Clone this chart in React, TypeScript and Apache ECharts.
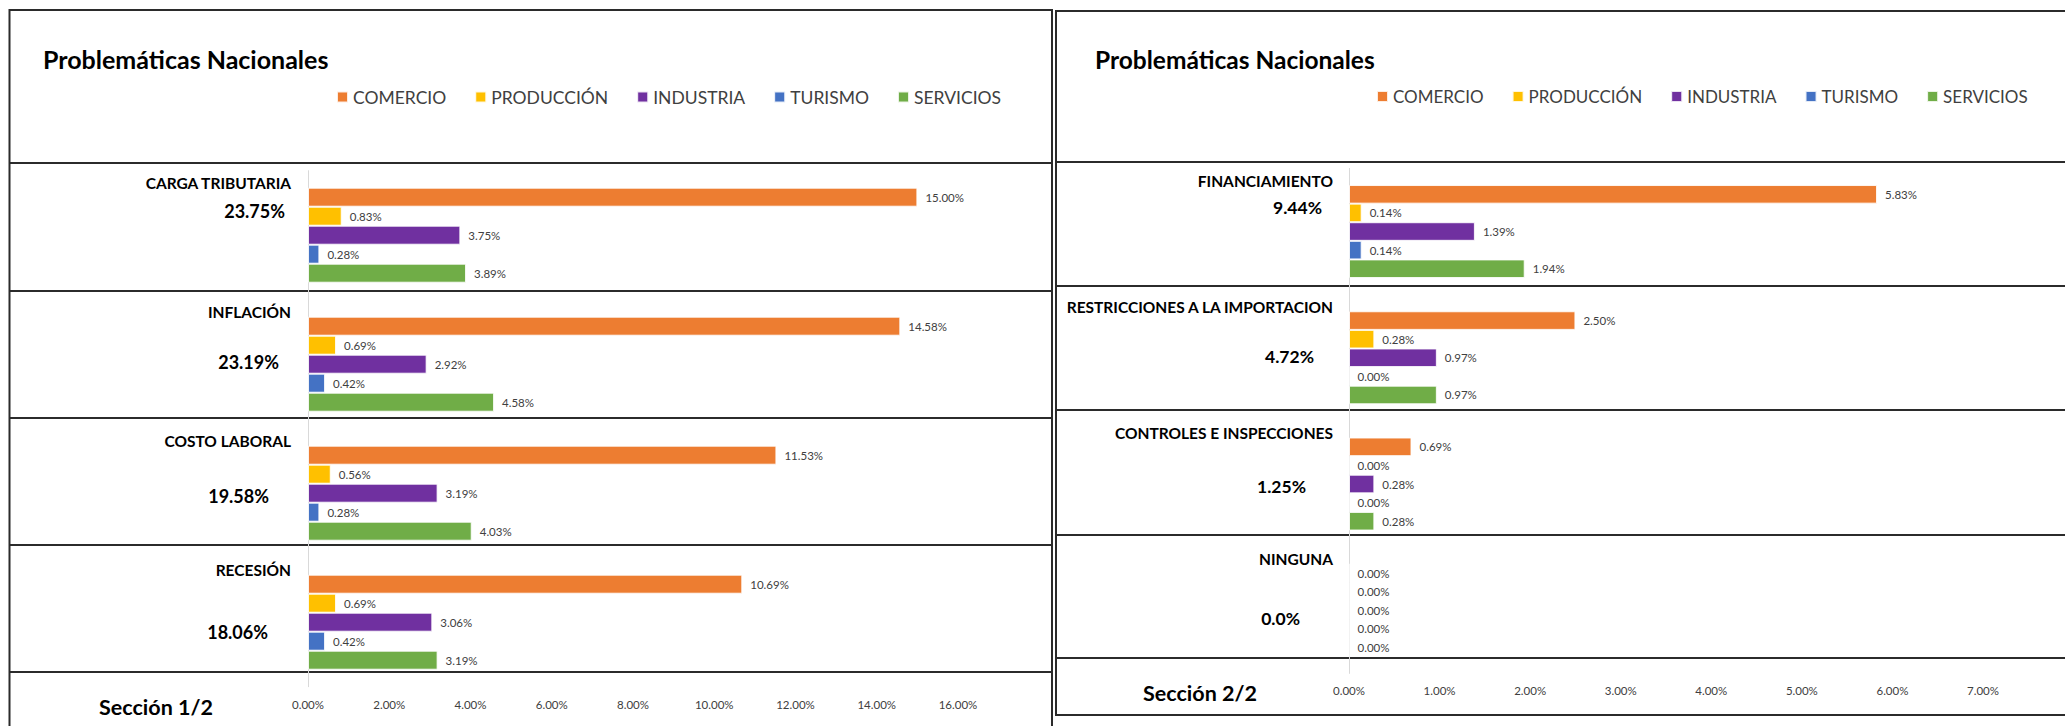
import React, { useEffect, useRef } from 'react';
import * as echarts from 'echarts';

// ---------- data ----------
const seriesNames = ['COMERCIO', 'PRODUCCIÓN', 'INDUSTRIA', 'TURISMO', 'SERVICIOS'];
const seriesColors = ['#ED7D31', '#FFC000', '#7030A0', '#4472C4', '#70AD47'];

const categories1 = ['CARGA TRIBUTARIA', 'INFLACIÓN', 'COSTO LABORAL', 'RECESIÓN'];
const totals1 = ['23.75%', '23.19%', '19.58%', '18.06%'];
const comercio1 = [15.0, 14.58, 11.53, 10.69];
const produccion1 = [0.83, 0.69, 0.56, 0.69];
const industria1 = [3.75, 2.92, 3.19, 3.06];
const turismo1 = [0.28, 0.42, 0.28, 0.42];
const servicios1 = [3.89, 4.58, 4.03, 3.19];

const categories2 = ['FINANCIAMIENTO', 'RESTRICCIONES A LA IMPORTACION', 'CONTROLES E INSPECCIONES', 'NINGUNA'];
const totals2 = ['9.44%', '4.72%', '1.25%', '0.0%'];
const comercio2 = [5.83, 2.5, 0.69, 0.0];
const produccion2 = [0.14, 0.28, 0.0, 0.0];
const industria2 = [1.39, 0.97, 0.28, 0.0];
const turismo2 = [0.14, 0.0, 0.0, 0.0];
const servicios2 = [1.94, 0.97, 0.28, 0.0];

const axisMax1 = 16;
const axisStep1 = 2;
const axisMax2 = 7;
const axisStep2 = 1;

const chartTitle = 'Problemáticas Nacionales';
const sectionLabels = ['Sección 1/2', 'Sección 2/2'];

// ---------- layout (positions of annotation texts) ----------
const FONT = 'Lato, "Open Sans", sans-serif';
const totalPos1 = [
  [285, 210.5],
  [279, 362],
  [269, 496],
  [268, 632],
];
const totalPos2 = [
  [1322, 207],
  [1314, 356],
  [1306, 486],
  [1300, 618],
];
const leftRows = [163, 291, 418, 545, 672];
const rightRows = [162, 286, 410, 535, 658];

export default function App() {
  const ref = useRef<HTMLDivElement>(null);

  useEffect(() => {
    if (!ref.current) return;
    const chart = echarts.init(ref.current, null, { renderer: 'svg' });

    const data1 = [comercio1, produccion1, industria1, turismo1, servicios1];
    const data2 = [comercio2, produccion2, industria2, turismo2, servicios2];

    const labelCfg = {
      show: true,
      position: 'right',
      distance: 8,
      fontFamily: FONT,
      fontSize: 11.5,
      color: '#404040',
      formatter: (p: any) => Number(p.value).toFixed(2) + '%',
    };

    const mkSeries = (arr: number[][], idx: number, bw: number) =>
      arr.map((d, i) => ({
        type: 'bar',
        name: seriesNames[i],
        xAxisIndex: idx,
        yAxisIndex: idx,
        data: d,
        barWidth: bw,
        barGap: '0%',
        itemStyle: { color: seriesColors[i], borderColor: 'rgba(255,255,255,0.85)', borderWidth: 1 },
        label: labelCfg,
      }));

    const lineStyle = { stroke: '#2b2b2b', lineWidth: 2 };
    const graphics: any[] = [];
    // panel frames
    graphics.push({ type: 'rect', shape: { x: 9.5, y: 10, width: 1042.5, height: 800 }, style: { fill: 'none', ...lineStyle } });
    graphics.push({ type: 'rect', shape: { x: 1056, y: 11, width: 1100, height: 704 }, style: { fill: 'none', ...lineStyle } });
    leftRows.forEach((y) =>
      graphics.push({ type: 'line', shape: { x1: 9.5, y1: y, x2: 1052, y2: y }, style: lineStyle })
    );
    rightRows.forEach((y) =>
      graphics.push({ type: 'line', shape: { x1: 1056, y1: y, x2: 2100, y2: y }, style: lineStyle })
    );
    // titles
    graphics.push({ type: 'text', x: 43, y: 59, style: { text: chartTitle, fontFamily: FONT, fontWeight: 'bold', fontSize: 25, fill: '#000', textVerticalAlign: 'middle' } });
    graphics.push({ type: 'text', x: 1095, y: 59, style: { text: chartTitle, fontFamily: FONT, fontWeight: 'bold', fontSize: 24.5, fill: '#000', textVerticalAlign: 'middle' } });
    // totals
    totals1.forEach((t, i) =>
      graphics.push({ type: 'text', x: totalPos1[i][0], y: totalPos1[i][1], style: { text: t, fontFamily: FONT, fontWeight: 'bold', fontSize: 18, fill: '#000', textAlign: 'right', textVerticalAlign: 'middle' } })
    );
    totals2.forEach((t, i) =>
      graphics.push({ type: 'text', x: totalPos2[i][0], y: totalPos2[i][1], style: { text: t, fontFamily: FONT, fontWeight: 'bold', fontSize: 17.5, fill: '#000', textAlign: 'right', textVerticalAlign: 'middle' } })
    );
    // section labels
    graphics.push({ type: 'text', x: 156, y: 707, style: { text: sectionLabels[0], fontFamily: FONT, fontWeight: 'bold', fontSize: 21.5, fill: '#000', textAlign: 'center', textVerticalAlign: 'middle' } });
    graphics.push({ type: 'text', x: 1200, y: 693, style: { text: sectionLabels[1], fontFamily: FONT, fontWeight: 'bold', fontSize: 21.5, fill: '#000', textAlign: 'center', textVerticalAlign: 'middle' } });

    const legendBase = {
      icon: 'rect',
      itemWidth: 11,
      itemHeight: 11,
      padding: 0,
      data: seriesNames,
    };

    const xAxisBase = (gi: number, max: number, step: number, margin: number) => ({
      type: 'value',
      gridIndex: gi,
      min: 0,
      max,
      interval: step,
      axisLine: { show: false },
      axisTick: { show: false },
      splitLine: { show: false },
      axisLabel: {
        margin,
        fontFamily: FONT,
        fontSize: 11.5,
        color: '#404040',
        formatter: (v: number) => v.toFixed(2) + '%',
      },
    });

    const yAxisBase = (gi: number, cats: string[], margin: number, gapBelow: number) => ({
      type: 'category',
      gridIndex: gi,
      data: cats,
      inverse: true,
      axisTick: { show: false },
      axisLine: { show: true, lineStyle: { color: '#D9D9D9', width: 1 } },
      axisLabel: {
        margin,
        align: 'right',
        formatter: (v: string) => '{a|' + v + '}\n{b|}',
        rich: {
          a: { fontFamily: FONT, fontWeight: 'bold', fontSize: 15.5, color: '#000', lineHeight: 20, align: 'right' },
          b: { height: gapBelow, lineHeight: gapBelow },
        },
      },
    });

    chart.setOption({
      animation: false,
      backgroundColor: '#fff',
      legend: [
        { ...legendBase, left: 336, top: 88, itemGap: 28, textStyle: { fontFamily: FONT, fontSize: 17.5, color: '#404040' } },
        { ...legendBase, left: 1376, top: 88, itemGap: 28, textStyle: { fontFamily: FONT, fontSize: 17, color: '#404040' } },
      ],
      grid: [
        { left: 308, top: 170.7, width: 650, height: 516 },
        { left: 1349, top: 168.4, width: 634, height: 505 },
      ],
      xAxis: [xAxisBase(0, axisMax1, axisStep1, 12), xAxisBase(1, axisMax2, axisStep2, 11)],
      yAxis: [yAxisBase(0, categories1, 17, 104), yAxisBase(1, categories2, 16, 102)],
      series: [...mkSeries(data1, 0, 19), ...mkSeries(data2, 1, 18.6)],
      graphic: graphics,
    });

    return () => chart.dispose();
  }, []);

  return (
    <div
      ref={ref}
      style={{ position: 'fixed', left: 0, top: 0, width: 2065, height: 726, background: '#fff' }}
    />
  );
}
